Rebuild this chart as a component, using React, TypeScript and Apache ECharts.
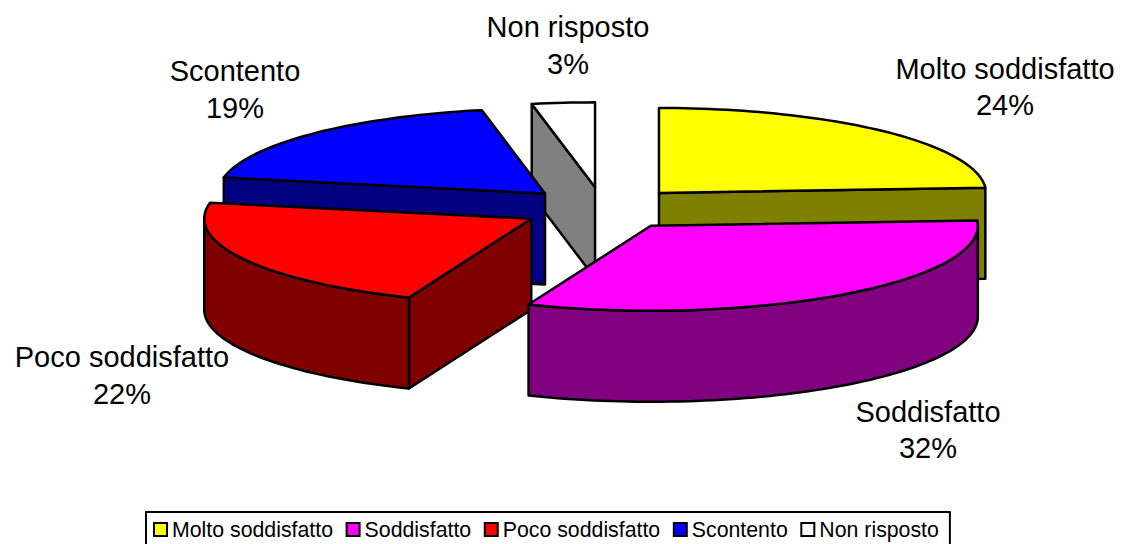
import React, { useEffect, useRef } from "react";
import * as echarts from "echarts";

const categories = ["Molto soddisfatto", "Soddisfatto", "Poco soddisfatto", "Scontento", "Non risposto"];
const percentages = [24, 32.1, 21.9, 18.9, 3.1];
const topColors = ["#ffff00", "#ff00ff", "#ff0000", "#0000ff", "#ffffff"];
const sideColors = ["#808000", "#800080", "#800000", "#000080", "#808080"];
const drawOrder = [4, 3, 0, 2, 1];
const labelAnchors = [
  [1005, 87],
  [928, 430],
  [122, 375.5],
  [235, 89.5],
  [568, 45.5],
];

const CX = 603;
const CY = 208.5;
const RX = 327;
const RY = 85;
const DEPTH = 91;
const EXPLODE = 0.25;
const FONT = "Liberation Sans, Arial, sans-serif";
const total = percentages.reduce((a, b) => a + b, 0);

const dir = (deg: number) => {
  const r = (deg * Math.PI) / 180;
  return [Math.sin(r), -Math.cos(r)];
};
const arcPoints = (ax: number, ay: number, from: number, to: number, dy = 0) => {
  const pts: number[][] = [];
  const n = Math.max(2, Math.ceil(Math.abs(to - from) / 1.5));
  for (let i = 0; i <= n; i++) {
    const d = dir(from + ((to - from) * i) / n);
    pts.push([ax + RX * d[0], ay + RY * d[1] + dy]);
  }
  return pts;
};

function sliceSeries(idx: number) {
  const before = percentages.slice(0, idx).reduce((a, b) => a + b, 0);
  return {
    type: "custom",
    name: categories[idx],
    coordinateSystem: "none",
    silent: true,
    itemStyle: { color: topColors[idx] },
    data: [[before, percentages[idx]]],
    renderItem: (_: any, api: any) => {
      const start = (api.value(0) / total) * 360;
      const end = ((api.value(0) + api.value(1)) / total) * 360;
      const m = dir((start + end) / 2);
      const ax = CX + EXPLODE * RX * m[0];
      const ay = CY + EXPLODE * RY * m[1];
      const edge = { stroke: "#000", lineWidth: 2.5, lineJoin: "round" };
      const side = { ...edge, fill: sideColors[idx] };
      const children: any[] = [];
      const radial = (deg: number) => {
        const d = dir(deg);
        const ox = ax + RX * d[0];
        const oy = ay + RY * d[1];
        children.push({
          type: "polygon",
          shape: { points: [[ax, ay], [ox, oy], [ox, oy + DEPTH], [ax, ay + DEPTH]] },
          style: side,
        });
      };
      if (start > 180 && start < 360) radial(start);
      if (end > 0 && end < 180) radial(end);
      const wallFrom = Math.max(start, 90);
      const wallTo = Math.min(end, 270);
      if (wallTo > wallFrom) {
        children.push({
          type: "polygon",
          shape: {
            points: [
              ...arcPoints(ax, ay, wallFrom, wallTo),
              ...arcPoints(ax, ay, wallTo, wallFrom, DEPTH),
            ],
          },
          style: side,
        });
      }
      children.push({
        type: "polygon",
        shape: { points: [[ax, ay], ...arcPoints(ax, ay, start, end)] },
        style: { ...edge, fill: topColors[idx] },
      });
      children.push({
        type: "text",
        z2: 100,
        style: {
          text: `${categories[idx]}\n${Math.round(api.value(1))}%`,
          x: labelAnchors[idx][0],
          y: labelAnchors[idx][1],
          align: "center",
          verticalAlign: "middle",
          font: `29px ${FONT}`,
          lineHeight: 36.5,
          fill: "#000",
        },
      });
      return { type: "group", children };
    },
  };
}

export default function App() {
  const ref = useRef<HTMLDivElement>(null);
  useEffect(() => {
    const chart = echarts.init(ref.current!, undefined, { renderer: "svg" });
    chart.setOption({
      animation: false,
      backgroundColor: "#fff",
      legend: {
        data: categories,
        left: 146,
        top: 512,
        orient: "horizontal",
        selectedMode: false,
        icon: "rect",
        itemWidth: 13,
        itemHeight: 13,
        itemGap: 12.6,
        padding: [7, 11, 6, 7],
        borderColor: "#000",
        borderWidth: 2,
        borderRadius: 0,
        itemStyle: { borderColor: "#000", borderWidth: 2 },
        textStyle: { fontFamily: FONT, fontSize: 21.3, color: "#000", padding: [0, 0, 0, 0] },
      },
      series: drawOrder.map(sliceSeries),
    });
    return () => chart.dispose();
  }, []);
  return <div ref={ref} style={{ position: "fixed", left: 0, top: 0, width: 1122, height: 544 }} />;
}
